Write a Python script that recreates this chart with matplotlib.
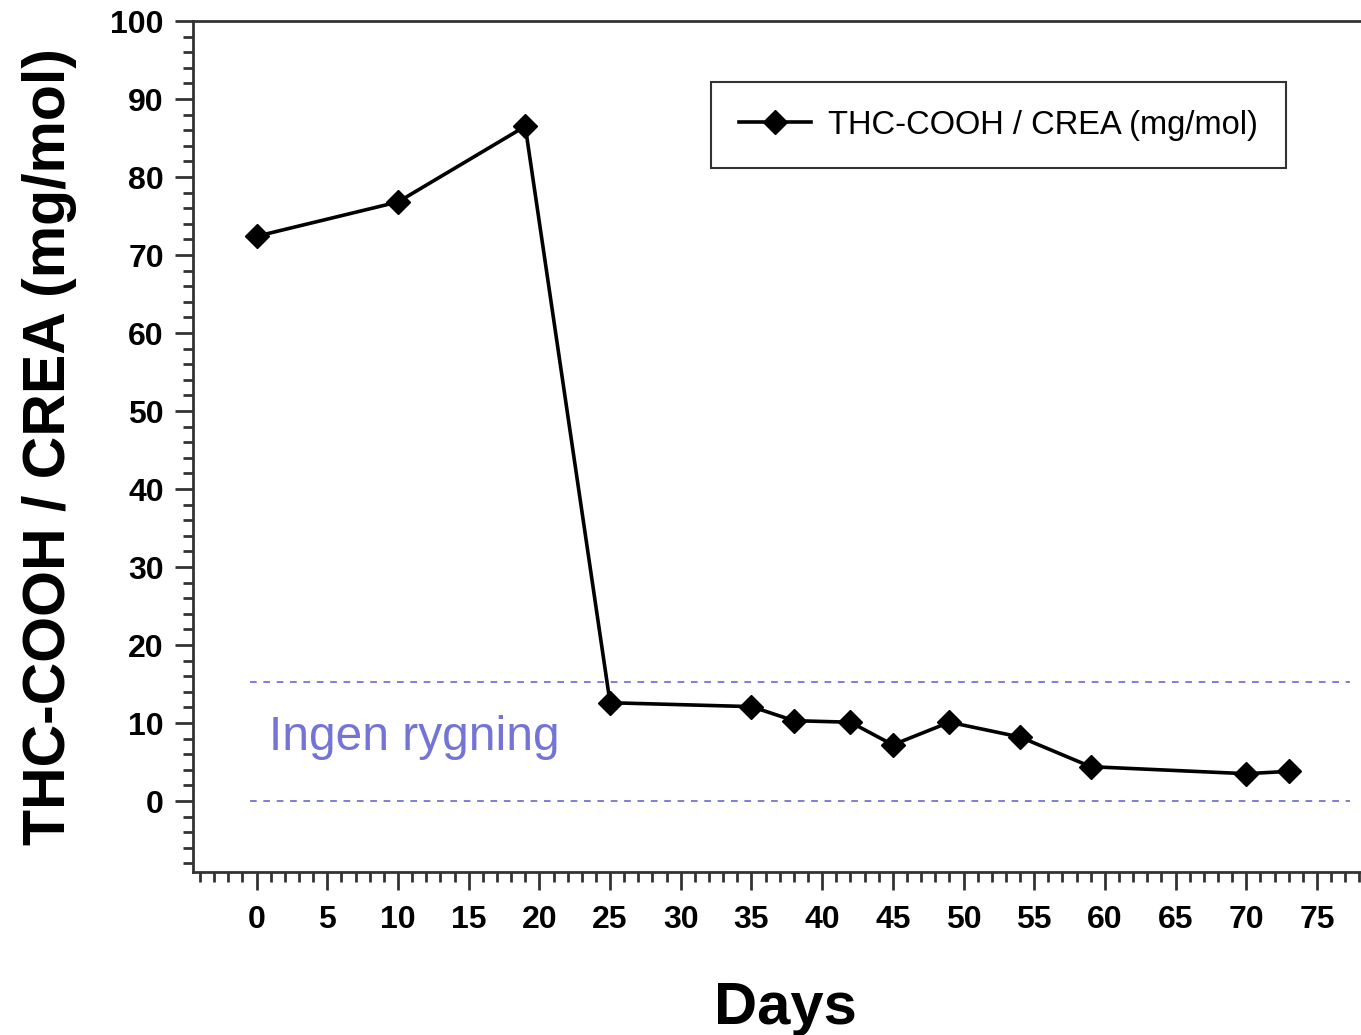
import matplotlib
matplotlib.use("Agg")
import matplotlib.pyplot as plt
from matplotlib.ticker import MultipleLocator

plt.rcParams["font.family"] = ["Liberation Sans", "DejaVu Sans"]

days = [0, 10, 19, 25, 35, 38, 42, 45, 49, 54, 59, 70, 73]
ratio = [72.4, 76.8, 86.5, 12.6, 12.1, 10.3, 10.1, 7.2, 10.1, 8.2, 4.4, 3.5, 3.8]
series_label = "THC-COOH / CREA (mg/mol)"

band_upper = 15.3
band_lower = 0.0
band_label = "Ingen rygning"
band_color = "#7474d6"

fig = plt.figure(figsize=(13.61, 10.35), dpi=100)
ax = fig.add_axes([0.1418, 0.1575, 0.8778, 0.8222])

ax.plot(days, ratio, color="black", lw=2.6, marker="D", ms=12.5,
        label=series_label, zorder=3)

for yv in (band_upper, band_lower):
    ax.plot([-0.5, 77.3], [yv, yv], color=band_color, lw=1.3,
            dashes=(3.7, 3.7), zorder=2)
ax.text(0.9, 8.2, band_label, color=band_color, fontsize=34.5,
        va="center", ha="left")

ax.set_xlim(-4.5, 80)
ax.set_ylim(-9.1, 100)

ax.xaxis.set_major_locator(MultipleLocator(5))
ax.xaxis.set_minor_locator(MultipleLocator(1))
ax.yaxis.set_major_locator(MultipleLocator(10))
ax.yaxis.set_minor_locator(MultipleLocator(2))
ax.set_xticks(range(0, 80, 5))
ax.set_yticks(range(0, 101, 10))

ax.tick_params(which="major", direction="out", length=13, width=2,
               color="#333333", labelsize=23)
ax.tick_params(which="minor", direction="out", length=7, width=2,
               color="#333333")
ax.tick_params(axis="x", which="major", pad=11)
ax.tick_params(axis="y", which="major", pad=8)
for lab in ax.get_xticklabels() + ax.get_yticklabels():
    lab.set_fontweight("bold")

for side in ("left", "bottom", "top"):
    ax.spines[side].set_linewidth(2)
    ax.spines[side].set_color("#333333")
ax.spines["right"].set_visible(False)

ax.set_ylabel(series_label, fontsize=42.5, fontweight="bold", labelpad=24)
fig.text(785 / 1361, 1 - 1009 / 1035, "Days", fontsize=43,
         fontweight="bold", ha="center", va="center")

leg = fig.legend(loc="upper left", bbox_to_anchor=(711 / 1361, 1 - 82 / 1035),
                 fontsize=23.5, frameon=True, fancybox=False, borderpad=0.85,
                 handlelength=2.2, handletextpad=0.55, borderaxespad=0)
leg.get_frame().set_edgecolor("black")
leg.get_frame().set_linewidth(1.5)

fig.savefig("out.png", dpi=100)
